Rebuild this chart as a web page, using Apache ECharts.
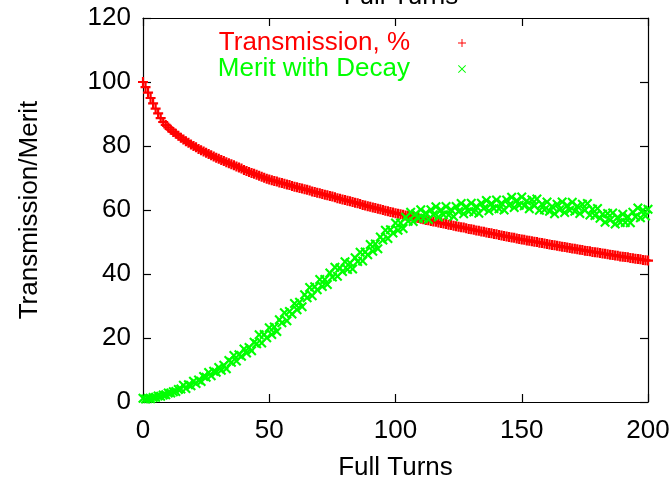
<!DOCTYPE html>
<html>
<head>
<meta charset="utf-8">
<script src="https://cdn.jsdelivr.net/npm/echarts@6/dist/echarts.min.js"></script>
<style>html,body{margin:0;padding:0;background:#fff}#c{width:672px;height:479px}</style>
</head>
<body>
<div id="c"></div>
<script>
// Tick labels
const xTicks = [0, 50, 100, 150, 200];
const yTicks = [0, 20, 40, 60, 80, 100, 120];
// Full turns 0..200
const turns = Array.from({length: 201}, (_, i) => i);
// Transmission, %
const transmission = [
100, 98.4, 96.7, 95.0, 93.3, 91.7, 90.2, 88.7, 87.5, 86.6, 85.8,
85.1, 84.4, 83.8, 83.2, 82.6, 82.0, 81.5, 81.0, 80.5, 80.0,
79.6, 79.1, 78.7, 78.3, 77.9, 77.5, 77.1, 76.7, 76.3, 76.0,
75.6, 75.3, 74.9, 74.6, 74.3, 74.0, 73.6, 73.3, 73.0, 72.5,
72.2, 71.9, 71.6, 71.3, 71.0, 70.7, 70.4, 70.1, 69.8, 69.5,
69.3, 69.1, 68.9, 68.6, 68.4, 68.2, 68.0, 67.8, 67.5, 67.3,
67.1, 66.9, 66.7, 66.5, 66.3, 66.1, 65.8, 65.6, 65.4, 65.2,
65.0, 64.8, 64.6, 64.4, 64.2, 64.0, 63.7, 63.5, 63.3, 63.1,
62.9, 62.7, 62.5, 62.3, 62.1, 61.9, 61.6, 61.4, 61.2, 61.0,
60.8, 60.6, 60.4, 60.2, 60.0, 59.8, 59.6, 59.4, 59.2, 59.0,
58.8, 58.7, 58.5, 58.3, 58.2, 58.0, 57.8, 57.6, 57.5, 57.3,
57.1, 56.9, 56.8, 56.6, 56.4, 56.3, 56.1, 55.9, 55.8, 55.6,
55.4, 55.3, 55.1, 54.9, 54.8, 54.6, 54.5, 54.3, 54.1, 54.0,
53.8, 53.6, 53.5, 53.3, 53.2, 53.0, 52.8, 52.7, 52.5, 52.4,
52.2, 52.0, 51.9, 51.7, 51.6, 51.4, 51.3, 51.1, 50.9, 50.8,
50.7, 50.5, 50.4, 50.2, 50.1, 50.0, 49.8, 49.7, 49.5, 49.4,
49.2, 49.1, 49.0, 48.8, 48.7, 48.5, 48.4, 48.3, 48.1, 48.0,
47.9, 47.7, 47.6, 47.5, 47.3, 47.2, 47.1, 46.9, 46.8, 46.7,
46.6, 46.4, 46.3, 46.2, 46.0, 45.9, 45.8, 45.7, 45.5, 45.4,
45.3, 45.2, 45.0, 44.9, 44.8, 44.7, 44.6, 44.4, 44.3, 44.2
];
// Merit with Decay
const merit = [
1.2, 0.9, 1.1, 1.0, 1.4, 1.5, 1.9, 1.8, 2.2, 2.3, 2.8,
2.8, 3.2, 3.3, 3.9, 4.1, 5.2, 4.2, 5.4, 5.1, 6.5,
5.8, 6.9, 6.4, 8.0, 7.7, 9.2, 8.2, 9.6, 9.3, 10.8,
9.9, 11.5, 10.4, 13.0, 12.4, 14.5, 12.8, 14.8, 14.3, 16.6,
15.3, 17.0, 16.0, 18.7, 18.2, 21.0, 18.4, 21.1, 20.1, 23.2,
21.1, 23.4, 22.0, 25.7, 24.8, 27.9, 25.4, 28.3, 27.5, 30.8,
28.8, 31.2, 29.8, 33.5, 32.6, 35.8, 33.2, 36.0, 35.1, 38.3,
36.1, 38.3, 36.7, 40.3, 39.1, 42.1, 39.3, 41.9, 40.8, 43.8,
41.4, 43.4, 41.6, 45.1, 43.9, 46.8, 44.1, 46.9, 46.0, 49.2,
47.1, 49.4, 47.9, 51.6, 50.6, 53.7, 51.1, 53.8, 52.8, 55.9,
53.7, 55.9, 54.2, 57.7, 56.5, 59.3, 56.4, 58.8, 57.4, 60.1,
57.4, 59.1, 57.0, 60.1, 58.5, 61.0, 57.8, 60.0, 58.5, 61.1,
58.4, 60.1, 58.0, 61.1, 59.5, 62.0, 58.8, 61.0, 59.5, 62.1,
59.4, 61.1, 59.0, 62.1, 60.5, 63.0, 59.8, 62.0, 60.5, 63.1,
60.4, 62.1, 60.0, 63.1, 61.5, 64.0, 60.8, 63.0, 61.5, 64.1,
61.3, 62.8, 60.4, 63.2, 61.3, 63.4, 59.9, 61.8, 60.1, 62.5,
59.6, 61.1, 58.8, 61.8, 60.1, 62.5, 59.2, 61.4, 59.9, 62.4,
59.6, 61.2, 58.9, 61.8, 59.9, 62.0, 58.4, 60.2, 58.3, 60.5,
57.4, 58.7, 56.2, 58.9, 56.9, 59.1, 55.6, 57.7, 56.1, 58.7,
56.1, 57.9, 56.0, 59.3, 57.9, 60.6, 57.6, 59.9, 58.1, 60.2
];
const seriesNames = ['Transmission, %', 'Merit with Decay'];
const seriesColors = ['#ff0000', '#00ff00'];

const PLUS_ICON = 'path://M4.4,0H5.6V4.4H10V5.6H5.6V10H4.4V5.6H0V4.4H4.4Z';
const CROSS_ICON = 'path://M0,0.8L0.8,0L5,4.2L9.2,0L10,0.8L5.8,5L10,9.2L9.2,10L5,5.8L0.8,10L0,9.2L4.2,5Z';
const PLUS = 'path://M3.9,0H6.1V3.9H10V6.1H6.1V10H3.9V6.1H0V3.9H3.9Z';
const CROSS = 'path://M0,1.5L1.5,0L5,3.5L8.5,0L10,1.5L6.5,5L10,8.5L8.5,10L5,6.5L1.5,10L0,8.5L3.5,5Z';
const FONT = 'Liberation Sans, Arial, sans-serif';
const FS = 26;

const chart = echarts.init(document.getElementById('c'), null, {renderer: 'canvas'});
function mkAxis(base, extra) {
  return Object.assign({
    gridIndex: 0,
    splitLine: {show: false},
    axisLine: {show: true, onZero: false, lineStyle: {color: '#000', width: 1.2}},
    axisTick: {show: true, inside: true, length: 8, lineStyle: {color: '#000', width: 1.2}}
  }, base, extra);
}
const xBase = {type: 'value', min: xTicks[0], max: xTicks[xTicks.length - 1], interval: xTicks[1] - xTicks[0]};
const yBase = {type: 'value', min: yTicks[0], max: yTicks[yTicks.length - 1], interval: yTicks[1] - yTicks[0]};

chart.setOption({
  animation: false,
  backgroundColor: '#fff',
  textStyle: {fontFamily: FONT},
  title: {
    text: 'Full Turns', left: 396, top: -21, textAlign: 'center',
    textStyle: {fontFamily: FONT, fontSize: FS, fontWeight: 'normal', color: '#000'}
  },
  legend: {
    orient: 'vertical', right: 201, top: 25, align: 'right', itemGap: 0,
    itemWidth: 8, itemHeight: 8, selectedMode: false,
    data: [
      {name: seriesNames[0], icon: PLUS_ICON, itemStyle: {color: seriesColors[0]}, textStyle: {color: seriesColors[0]}},
      {name: seriesNames[1], icon: CROSS_ICON, itemStyle: {color: seriesColors[1]}, textStyle: {color: seriesColors[1]}}
    ],
    textStyle: {fontFamily: FONT, fontSize: FS, padding: [0, 43, 0, 0]}
  },
  grid: {
    left: 143, right: 24, top: 18, bottom: 77, containLabel: false,
    outerBoundsMode: 'none'
  },
  xAxis: [
    mkAxis(xBase, {
      position: 'bottom', name: 'Full Turns', nameLocation: 'middle', nameGap: 53,
      nameTextStyle: {fontFamily: FONT, fontSize: FS, color: '#000'},
      axisLabel: {show: true, margin: 16, fontFamily: FONT, fontSize: FS, color: '#000'}
    }),
    mkAxis(xBase, {position: 'top', axisLabel: {show: false}})
  ],
  yAxis: [
    mkAxis(yBase, {
      position: 'left', name: 'Transmission/Merit', nameLocation: 'middle', nameGap: 100,
      nameTextStyle: {fontFamily: FONT, fontSize: FS, color: '#000'},
      axisLabel: {show: true, margin: 12, fontFamily: FONT, fontSize: FS, color: '#000'}
    }),
    mkAxis(yBase, {position: 'right', axisLabel: {show: false}})
  ],
  series: [
    {
      name: seriesNames[0], type: 'scatter', xAxisIndex: 0, yAxisIndex: 0,
      symbol: PLUS, symbolSize: 10, itemStyle: {color: seriesColors[0], opacity: 1},
      data: turns.map((t, i) => [t, transmission[i]])
    },
    {
      name: seriesNames[1], type: 'scatter', xAxisIndex: 1, yAxisIndex: 1,
      symbol: CROSS, symbolSize: 10, itemStyle: {color: seriesColors[1], opacity: 1},
      data: turns.map((t, i) => [t, merit[i]])
    }
  ]
});
</script>
</body>
</html>
